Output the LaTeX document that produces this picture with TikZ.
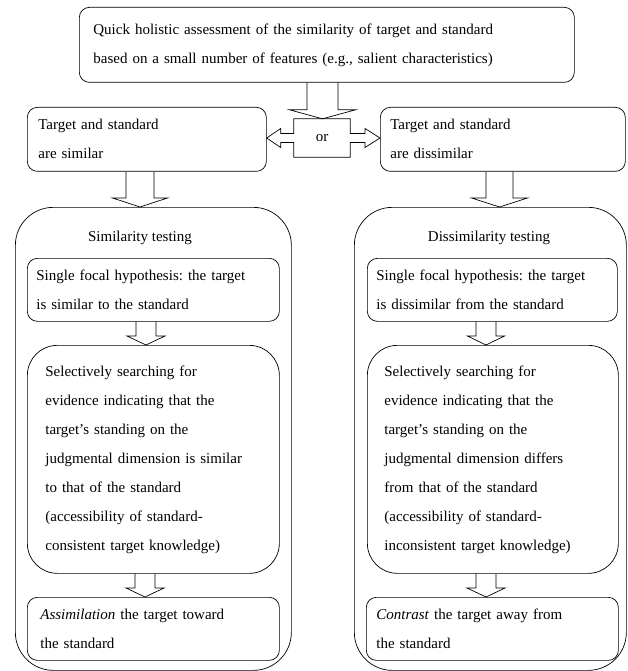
\documentclass[tikz,border=0pt]{standalone}
\usepackage{fontspec}
\setmainfont{Liberation Serif}
\usetikzlibrary{calc}
\frenchspacing
\tikzset{
  box/.style={draw,rounded corners=10pt,anchor=north west,align=left,
    inner ysep=0pt,line width=0.7pt,font=\fontsize{15}{29}\selectfont},
  blk/.style={draw,line width=0.7pt},
  frame/.style={draw,rounded corners=38pt,anchor=north west,line width=0.7pt},
  title/.style={font=\fontsize{15}{29}\selectfont}
}
% block arrow: from, to, x, half shaft, half head
\newcommand{\blockdown}[5]{%
  \coordinate (t) at (#3,0 |- #2.north);
  \draw[blk] ({#3-#4},0 |- #1.south) -- ($(t)+(-#4,-9)$) -- ($(t)+(-#5,-9)$) -- (t)
    -- ($(t)+(#5,-9)$) -- ($(t)+(#4,-9)$) -- ({#3+#4},0 |- #1.south);
}
\begin{document}
\begin{tikzpicture}[x=1pt,y=-1pt]
  \useasboundingbox (0,0) rectangle (627,671);
  % outer frames
  \node[frame,minimum width=276pt,minimum height=463pt] (simc) at (15,207) {};
  \node[frame,minimum width=272pt,minimum height=463pt] (disc) at (354,207) {};
  \node[title] (simt) at (140,238) {Similarity testing};
  \node[title] (dist) at (489,238) {Dissimilarity testing};
  % boxes
  \node[box,inner xsep=14pt,text width=467pt,minimum height=75pt] (top) at (79,7)
    {Quick holistic assessment of the similarity of target and standard\\
     based on a small number of features (e.g., salient characteristics)};
  \node[box,inner xsep=11pt,text width=217pt,minimum height=64pt] (sim) at (27,107)
    {Target and standard\\are similar};
  \node[box,inner xsep=10pt,text width=225pt,minimum height=64pt] (dis) at (380,107)
    {Target and standard\\are dissimilar};
  \node[title,minimum width=56pt,minimum height=38pt,inner sep=0pt] (or) at (322,138) {or};
  \node[box,inner xsep=9pt,text width=234pt,minimum height=63pt] (simh) at (27,258)
    {Single focal hypothesis: the target\\is similar to the standard};
  \node[box,inner xsep=9pt,text width=232pt,minimum height=63pt] (dish) at (367,258)
    {Single focal hypothesis: the target\\is dissimilar from the standard};
  \node[box,rounded corners=30pt,inner xsep=18pt,text width=216pt,minimum height=228pt] (sims) at (27,345)
    {Selectively searching for\\evidence indicating that the\\target’s standing on the\\
     judgmental dimension is similar\\to that of the standard\\(accessibility of standard-\\
     consistent target knowledge)};
  \node[box,rounded corners=30pt,inner xsep=17pt,text width=217pt,minimum height=228pt] (diss) at (367,345)
    {Selectively searching for\\evidence indicating that the\\target’s standing on the\\
     judgmental dimension differs\\from that of the standard\\(accessibility of standard-\\
     inconsistent target knowledge)};
  \node[box,inner xsep=13pt,text width=226pt,minimum height=63pt] (sima) at (27,597)
    {\textit{Assimilation} the target toward\\the standard};
  \node[box,inner xsep=10pt,text width=232pt,minimum height=63pt] (disa) at (366,597)
    {\textit{Contrast} the target away from\\the standard};
  % or arrow
  \coordinate (l) at (sim.east |- or.west);
  \coordinate (r) at (dis.west |- or.east);
  \draw[blk] (or.north west) -- (or.north east) -- ($(or.east)+(0,-4.5)$)
    -- ($(r)+(-15,-4.5)$) -- ($(r)+(-15,-9.5)$) -- (r) -- ($(r)+(-15,9.5)$)
    -- ($(r)+(-15,4.5)$) -- ($(or.east)+(0,4.5)$) -- (or.south east)
    -- (or.south west) -- ($(or.west)+(0,4.5)$) -- ($(l)+(14,4.5)$)
    -- ($(l)+(14,9.5)$) -- (l) -- ($(l)+(14,-9.5)$) -- ($(l)+(14,-4.5)$)
    -- ($(or.west)+(0,-4.5)$) -- cycle;
  % down arrows
  \blockdown{top}{or}{322.5}{15.5}{33}
  \blockdown{sim}{simc}{140}{14}{27.5}
  \blockdown{dis}{disc}{499.5}{13.5}{28}
  \blockdown{simh}{sims}{146}{10}{19}
  \blockdown{dish}{diss}{486}{10}{18.5}
  \blockdown{sims}{sima}{145}{10}{19}
  \blockdown{diss}{disa}{486}{10}{19}
\end{tikzpicture}
\end{document}
